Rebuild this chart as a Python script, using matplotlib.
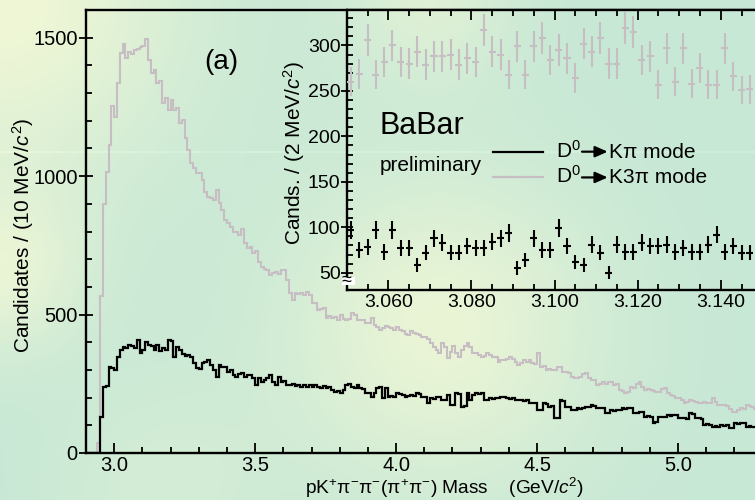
import numpy as np
import matplotlib
matplotlib.use("Agg")
import matplotlib.pyplot as plt
from matplotlib.patches import Rectangle
from matplotlib.ticker import MultipleLocator, FormatStrFormatter

# ---------------- data ----------------
# main plot: 10 MeV/c^2 bins from 2.90 to 5.30 GeV/c^2
mass_lo, bin_w, n_bins = 2.90, 0.01, 240
k3pi_counts = [
    0, 0, 0, 0, 36, 567, 901, 1016, 1112, 1253,
    1214, 1335, 1443, 1479, 1425, 1449, 1440, 1455, 1460, 1465,
    1470, 1495, 1418, 1374, 1383, 1335, 1345, 1263, 1281, 1238,
    1274, 1238, 1245, 1191, 1202, 1137, 1094, 1047, 1029, 1011,
    1011, 985, 942, 925, 920, 912, 949, 902, 877, 841,
    830, 816, 798, 798, 787, 810, 758, 740, 745, 722,
    728, 690, 671, 665, 660, 643, 650, 655, 648, 661,
    661, 625, 578, 552, 578, 575, 578, 572, 580, 570,
    541, 541, 516, 520, 522, 487, 495, 487, 490, 480,
    498, 485, 480, 485, 504, 498, 480, 480, 482, 470,
    470, 486, 462, 456, 444, 450, 460, 455, 450, 445,
    455, 444, 440, 430, 426, 440, 433, 430, 426, 420,
    420, 410, 396, 384, 372, 360, 396, 384, 342, 365,
    385, 360, 348, 372, 385, 396, 384, 360, 360, 354,
    348, 352, 360, 355, 348, 345, 330, 335, 336, 340,
    348, 340, 330, 318, 325, 336, 330, 335, 324, 320,
    360, 312, 315, 300, 305, 298, 300, 312, 310, 294,
    294, 290, 275, 272, 270, 275, 285, 288, 270, 265,
    262, 245, 250, 257, 250, 255, 257, 245, 250, 227,
    225, 215, 220, 240, 235, 250, 257, 240, 227, 230,
    227, 225, 221, 222, 230, 233, 215, 209, 205, 197,
    197, 190, 179, 185, 191, 188, 185, 180, 179, 185,
    179, 182, 197, 185, 173, 175, 173, 170, 160, 149,
    149, 155, 161, 158, 173, 170, 165, 160, 165, 170,
]
kpi_counts = [
    0, 0, 0, 0, 0, 131, 239, 242, 312, 308,
    300, 348, 372, 384, 378, 390, 386, 378, 408, 360,
    372, 401, 390, 386, 372, 390, 370, 378, 372, 408,
    404, 348, 384, 372, 356, 352, 354, 348, 324, 306,
    304, 324, 330, 336, 318, 300, 275, 318, 312, 309,
    294, 300, 282, 275, 284, 288, 275, 282, 280, 270,
    245, 270, 257, 263, 270, 282, 257, 245, 275, 257,
    259, 245, 247, 251, 243, 245, 240, 247, 238, 245,
    240, 247, 240, 236, 242, 236, 240, 227, 221, 223,
    215, 227, 245, 251, 239, 233, 245, 233, 231, 215,
    217, 203, 215, 233, 239, 197, 233, 203, 205, 201,
    215, 213, 209, 203, 205, 209, 207, 215, 213, 203,
    201, 179, 197, 195, 203, 201, 191, 193, 209, 173,
    175, 215, 213, 167, 169, 215, 191, 209, 215, 212,
    215, 191, 193, 197, 195, 197, 199, 203, 201, 197,
    195, 197, 191, 193, 191, 189, 191, 179, 181, 179,
    155, 157, 179, 177, 167, 169, 125, 128, 191, 188,
    167, 165, 155, 157, 161, 159, 161, 167, 165, 173,
    171, 161, 163, 161, 143, 145, 155, 153, 155, 157,
    161, 159, 161, 163, 143, 145, 149, 147, 131, 133,
    131, 110, 112, 131, 129, 131, 137, 135, 137, 139,
    125, 127, 125, 123, 143, 141, 125, 127, 123, 101,
    103, 101, 95, 97, 95, 101, 99, 101, 89, 91,
    107, 105, 107, 109, 95, 97, 95, 93, 100, 98,
]

# inset: 2 MeV/c^2 bins starting at 3.050 GeV/c^2
inset_lo, inset_bin = 3.050, 0.002
inset_k3pi = [260, 269, 306, 268, 282, 300, 282, 280, 293, 279,
              288, 288, 290, 279, 286, 282, 317, 293, 290, 268,
              299, 268, 299, 308, 284, 295, 286, 264, 302, 293,
              308, 280, 280, 319, 315, 284, 288, 257, 297, 260,
              297, 258, 275, 257, 257, 297, 266, 251, 252]
inset_kpi = [97, 75, 78, 97, 73, 97, 77, 77, 59, 72,
             88, 83, 72, 72, 79, 77, 77, 84, 88, 94,
             55, 64, 88, 75, 75, 99, 79, 62, 59, 81,
             72, 50, 81, 73, 73, 83, 79, 79, 81, 73,
             77, 73, 73, 81, 92, 73, 79, 72, 72]

legend_labels = [("D$^{0}$", "Kπ mode"), ("D$^{0}$", "K3π mode")]
main_xticks_fmt = "%.1f"
inset_xticks_fmt = "%.3f"

# ---------------- style ----------------
FONT = ["Liberation Sans", "DejaVu Sans"]
plt.rcParams["font.family"] = FONT
plt.rcParams["mathtext.fontset"] = "custom"
plt.rcParams["mathtext.rm"] = "Liberation Sans"
plt.rcParams["mathtext.it"] = "Liberation Sans:italic"
plt.rcParams["mathtext.bf"] = "Liberation Sans:bold"

GRAY = "#c6bec2"
W, H = 755, 500

# background (green with soft cream glows)
yy, xx = np.mgrid[0:H, 0:W].astype(float)
base = np.array([199, 232, 213]) / 255.0
glow = np.array([240, 247, 214]) / 255.0
wgt = np.zeros((H, W))
for cx, cy, s, a in [(0, 0, 130, 1.0), (0, 270, 60, 0.75), (440, 330, 110, 0.85),
                     (430, 0, 60, 0.55), (160, 490, 80, 0.3)]:
    wgt += a * np.exp(-((xx - cx) ** 2 + (yy - cy) ** 2) / (2 * s * s))
wgt = np.clip(wgt, 0, 1)
bg = base + (glow - base) * wgt[..., None]
bg[151:153] = np.clip(bg[151:153] + 0.025, 0, 1)

fig = plt.figure(figsize=(W / 100, H / 100), dpi=100)
bgax = fig.add_axes([0, 0, 1, 1], zorder=0)
bgax.imshow(bg, aspect="auto", extent=[0, 1, 0, 1], origin="upper")
bgax.axis("off")


def fig_rect(l, t, r, b):
    return [l / W, 1 - b / H, (r - l) / W, (b - t) / H]


# ---------------- main axes ----------------
ax = fig.add_axes(fig_rect(86, 10, 762.6, 453), zorder=1)
ax.patch.set_alpha(0)
edges = mass_lo + bin_w * np.arange(n_bins + 1)
ax.stairs(k3pi_counts, edges, color=GRAY, lw=1.5)
ax.stairs(kpi_counts, edges, color="black", lw=1.6)
ax.set_xlim(2.90, 5.30)
ax.set_ylim(0, 1600)
ax.xaxis.set_major_locator(MultipleLocator(0.5))
ax.xaxis.set_minor_locator(MultipleLocator(0.1))
ax.xaxis.set_major_formatter(FormatStrFormatter(main_xticks_fmt))
ax.yaxis.set_major_locator(MultipleLocator(500))
ax.yaxis.set_minor_locator(MultipleLocator(100))
ax.tick_params(axis="x", which="major", direction="in", length=7, width=1.3,
               pad=2.5, labelsize=14.5)
ax.tick_params(axis="x", which="minor", direction="in", length=4, width=1.3)
ax.tick_params(axis="y", which="major", direction="inout", length=10, width=1.3,
               pad=1, labelsize=14.5)
ax.tick_params(axis="y", which="minor", direction="in", length=4, width=1.3)
for sp in ax.spines.values():
    sp.set_linewidth(1.7)
ax.set_ylabel("Candidates / (10 MeV/$c^2$)", fontsize=15, va="center")
ax.yaxis.set_label_coords(-0.093, 0.492)
ax.set_xlabel("pK$^{+}$π$^{-}$π$^{-}$(π$^{+}$π$^{-}$) Mass    (GeV/$c^2$)",
              fontsize=13.8, va="center")
ax.xaxis.set_label_coords(0.53, -0.08)
ax.text(0.2, 0.8815, "(a)", transform=ax.transAxes, fontsize=20,
        ha="center", va="center")

# ---------------- inset ----------------
ins = fig.add_axes(fig_rect(346.75, 10, 762.3, 290), zorder=2)
ins.imshow(bg, aspect="auto", extent=[0, 1, 0, 1], origin="upper",
           transform=fig.transFigure, zorder=0)
centers = inset_lo + inset_bin * (np.arange(len(inset_k3pi)) + 0.5)
ins.errorbar(centers, inset_k3pi, yerr=np.sqrt(inset_k3pi), xerr=0.00085,
             fmt="none", ecolor=GRAY, elinewidth=1.5, capsize=0, zorder=3)
ins.errorbar(centers, inset_kpi, yerr=np.sqrt(inset_kpi), xerr=0.00085,
             fmt="none", ecolor="black", elinewidth=1.5, capsize=0, zorder=4)
ins.set_xlim(3.05, 3.15)
ins.set_ylim(31, 339)
ins.xaxis.set_major_locator(MultipleLocator(0.02))
ins.xaxis.set_minor_locator(MultipleLocator(0.005))
ins.xaxis.set_major_formatter(FormatStrFormatter(inset_xticks_fmt))
ins.yaxis.set_major_locator(MultipleLocator(50))
ins.yaxis.set_minor_locator(MultipleLocator(10))
ins.tick_params(axis="x", which="major", direction="in", length=7, width=1.3,
                top=True, pad=3, labelsize=14)
ins.tick_params(axis="x", which="minor", direction="in", length=4, width=1.3,
                top=True)
ins.tick_params(axis="y", which="major", direction="inout", length=9, width=1.3,
                right=True, pad=0, labelsize=14)
ins.tick_params(axis="y", which="minor", direction="in", length=4, width=1.3,
                right=True)
for sp in ins.spines.values():
    sp.set_linewidth(1.7)
ins.set_ylabel("Cands. / (2 MeV/$c^2$)", fontsize=15, va="center")
ins.yaxis.set_label_coords(-0.126, 0.489)

ins.text(0.08, 0.586, "BaBar", transform=ins.transAxes, fontsize=22,
         ha="left", va="center")
ins.text(0.08, 0.443, "preliminary", transform=ins.transAxes, fontsize=15,
         ha="left", va="center")

# legend, drawn by hand: line sample, "D0", bold arrow, decay mode
legend_colors = ["black", GRAY]
legend_line_y = [0.494, 0.402]
legend_base_y = [0.4714, 0.382]
for (pre, post), col, ly, by in zip(legend_labels, legend_colors,
                                    legend_line_y, legend_base_y):
    ins.plot([0.352, 0.472], [ly, ly], transform=ins.transAxes,
             color=col, lw=1.6)
    ins.text(0.503, by, pre, transform=ins.transAxes, fontsize=15,
             ha="left", va="baseline")
    ins.annotate("", xy=(0.628, ly), xytext=(0.566, ly),
                 xycoords="axes fraction", textcoords="axes fraction",
                 arrowprops=dict(arrowstyle="-|>,head_length=0.5,head_width=0.22",
                                 color="black", lw=1.6, shrinkA=0, shrinkB=0,
                                 mutation_scale=15))
    ins.text(0.631, by, post, transform=ins.transAxes, fontsize=15,
             ha="left", va="baseline")

# broken-axis mark
ins.add_patch(Rectangle((-0.012, 0.018), 0.031, 0.03, transform=ins.transAxes,
                        facecolor="white", edgecolor="none", clip_on=False,
                        zorder=6))
ins.text(0.0, 0.034, "≈", transform=ins.transAxes, fontsize=13, ha="center",
         va="center", clip_on=False, zorder=7)

fig.savefig("out.png", dpi=100)
